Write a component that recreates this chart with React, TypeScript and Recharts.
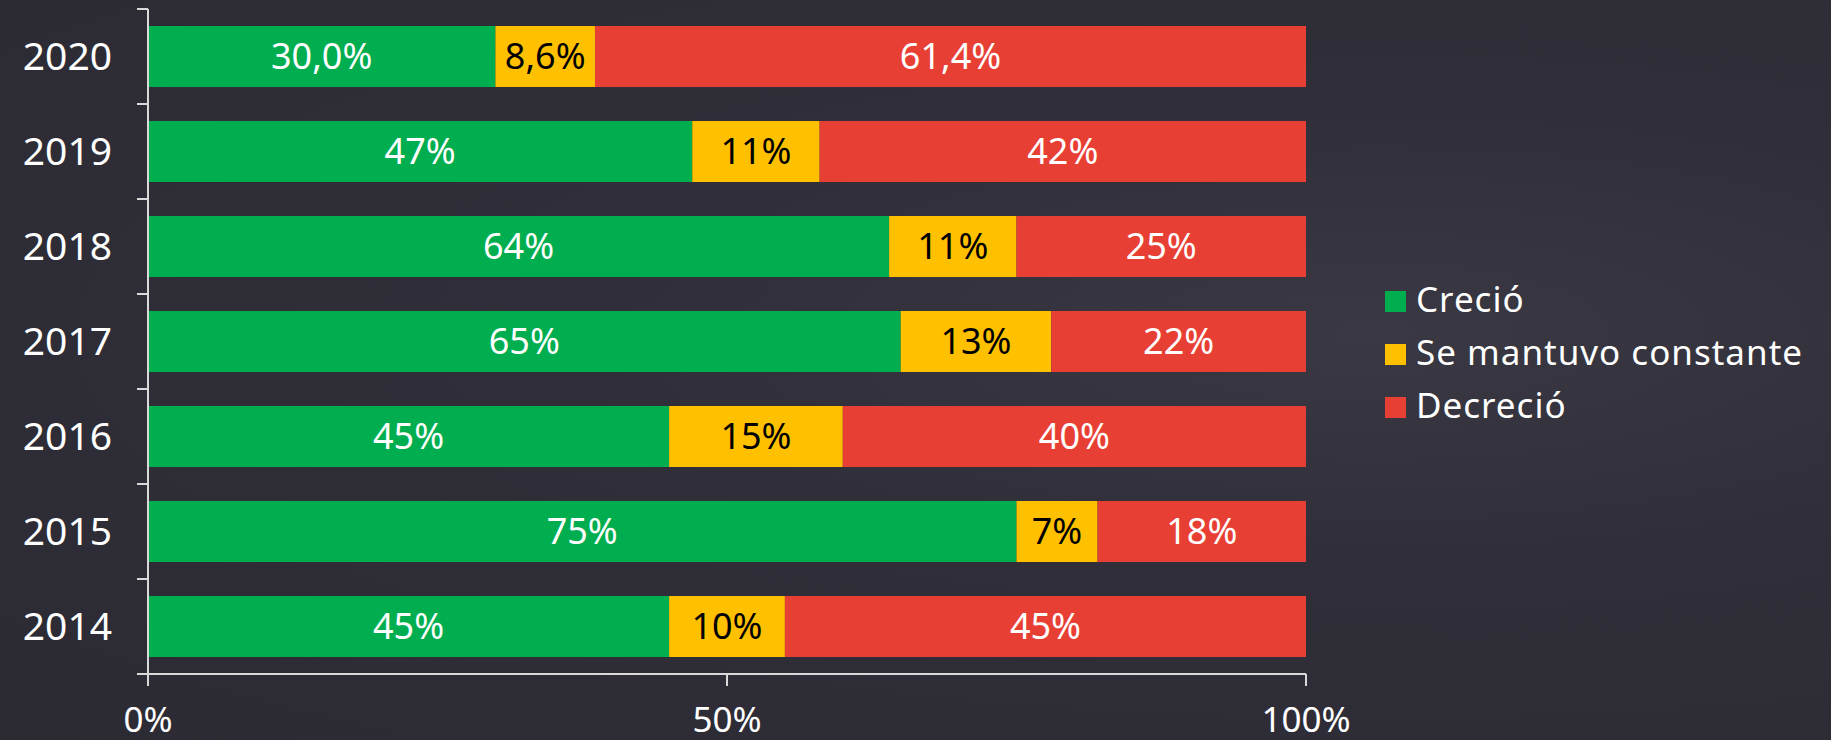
import { Bar, BarChart, LabelList, Legend, XAxis, YAxis } from "recharts";

const years = ["2020", "2019", "2018", "2017", "2016", "2015", "2014"];
const crecio = [30.0, 47, 64, 65, 45, 75, 45];
const constante = [8.6, 11, 11, 13, 15, 7, 10];
const decrecio = [61.4, 42, 25, 22, 40, 18, 45];
const decimals = [1, 0, 0, 0, 0, 0, 0];
const seriesNames = ["Creció", "Se mantuvo constante", "Decreció"];
const xTicks = [0, 50, 100];
const boundaryTicks = [0, 1, 2, 3, 4, 5, 6, 7];

const COLORS = {
  crecio: "#00ad4f",
  constante: "#ffc000",
  decrecio: "#e83f35",
};

const FONT = "'Noto Sans', 'DejaVu Sans', sans-serif";
const AXIS = "#d9d9d9";
const W = 1831;
const H = 740;
const MARGIN = { top: 9, right: 525, bottom: 4, left: 0 };
const X_AXIS_H = 62;

const fmt = (v: number, d: number) => v.toFixed(d).replace(".", ",") + "%";

const data = years.map((year, i) => ({
  year,
  crecio: crecio[i],
  constante: constante[i],
  decrecio: decrecio[i],
  crecioLabel: fmt(crecio[i], decimals[i]),
  constanteLabel: fmt(constante[i], decimals[i]),
  decrecioLabel: fmt(decrecio[i], decimals[i]),
}));

function LegendBox({ payload }: any) {
  const items = [...(payload ?? [])].sort(
    (a: any, b: any) => seriesNames.indexOf(a.value) - seriesNames.indexOf(b.value)
  );
  return (
    <ul style={{ listStyle: "none", margin: 0, padding: 0, fontFamily: FONT }}>
      {items.map((p: any) => (
        <li
          key={p.value}
          style={{ display: "flex", alignItems: "center", height: 53, color: "#ffffff", fontSize: 35, letterSpacing: 1 }}
        >
          <span style={{ width: 21, height: 21, background: p.color, marginRight: 10, marginTop: 6, flexShrink: 0 }} />
          <span>{p.value}</span>
        </li>
      ))}
    </ul>
  );
}

export default function App() {
  return (
    <div
      style={{
        position: "relative",
        width: W,
        height: H,
        background: "radial-gradient(ellipse at 75% 45%, #3a3943 0%, #302f39 40%, #2c2b34 100%)",
      }}
    >
      <style>{`body{margin:0}`}</style>
      <BarChart width={W} height={H} data={data} layout="vertical" margin={MARGIN} barSize={61}>
        <YAxis
          type="category"
          dataKey="year"
          width={148}
          axisLine={false}
          tickLine={false}
          tickSize={10}
          tickMargin={26}
          tick={{ fill: "#ffffff", fontSize: 39, fontFamily: FONT }}
        />
        <XAxis
          type="number"
          domain={[0, 100]}
          ticks={xTicks}
          tickFormatter={(v: number) => `${v}%`}
          height={X_AXIS_H}
          tickSize={12}
          tickMargin={21}
          stroke={AXIS}
          strokeWidth={2}
          tick={{ fill: "#ffffff", fontSize: 35, fontFamily: FONT }}
        />
        <Legend
          layout="vertical"
          align="center"
          verticalAlign="middle"
          wrapperStyle={{ left: 1385, top: 272 }}
          content={<LegendBox />}
        />
        <Bar dataKey="crecio" name="Creció" stackId="a" fill={COLORS.crecio} isAnimationActive={false}>
          <LabelList dataKey="crecioLabel" position="center" fill="#ffffff" fontSize={36} fontFamily={FONT} />
        </Bar>
        <Bar dataKey="constante" name="Se mantuvo constante" stackId="a" fill={COLORS.constante} isAnimationActive={false}>
          <LabelList dataKey="constanteLabel" position="center" fill="#000000" fontSize={36} fontFamily={FONT} />
        </Bar>
        <Bar dataKey="decrecio" name="Decreció" stackId="a" fill={COLORS.decrecio} isAnimationActive={false}>
          <LabelList dataKey="decrecioLabel" position="center" fill="#ffffff" fontSize={36} fontFamily={FONT} />
        </Bar>
      </BarChart>

      {/* overlay: y axis line with ticks at the band boundaries */}
      <div style={{ position: "absolute", left: 0, top: 0, pointerEvents: "none" }}>
        <BarChart
          width={W}
          height={H}
          data={data}
          margin={{ ...MARGIN, bottom: MARGIN.bottom + X_AXIS_H }}
        >
          <XAxis hide />
          <YAxis
            type="number"
            domain={[0, 7]}
            allowDataOverflow
            ticks={boundaryTicks}
            width={148}
            tickFormatter={() => ""}
            tickSize={11}
            stroke={AXIS}
            strokeWidth={2}
          />
        </BarChart>
      </div>
    </div>
  );
}
